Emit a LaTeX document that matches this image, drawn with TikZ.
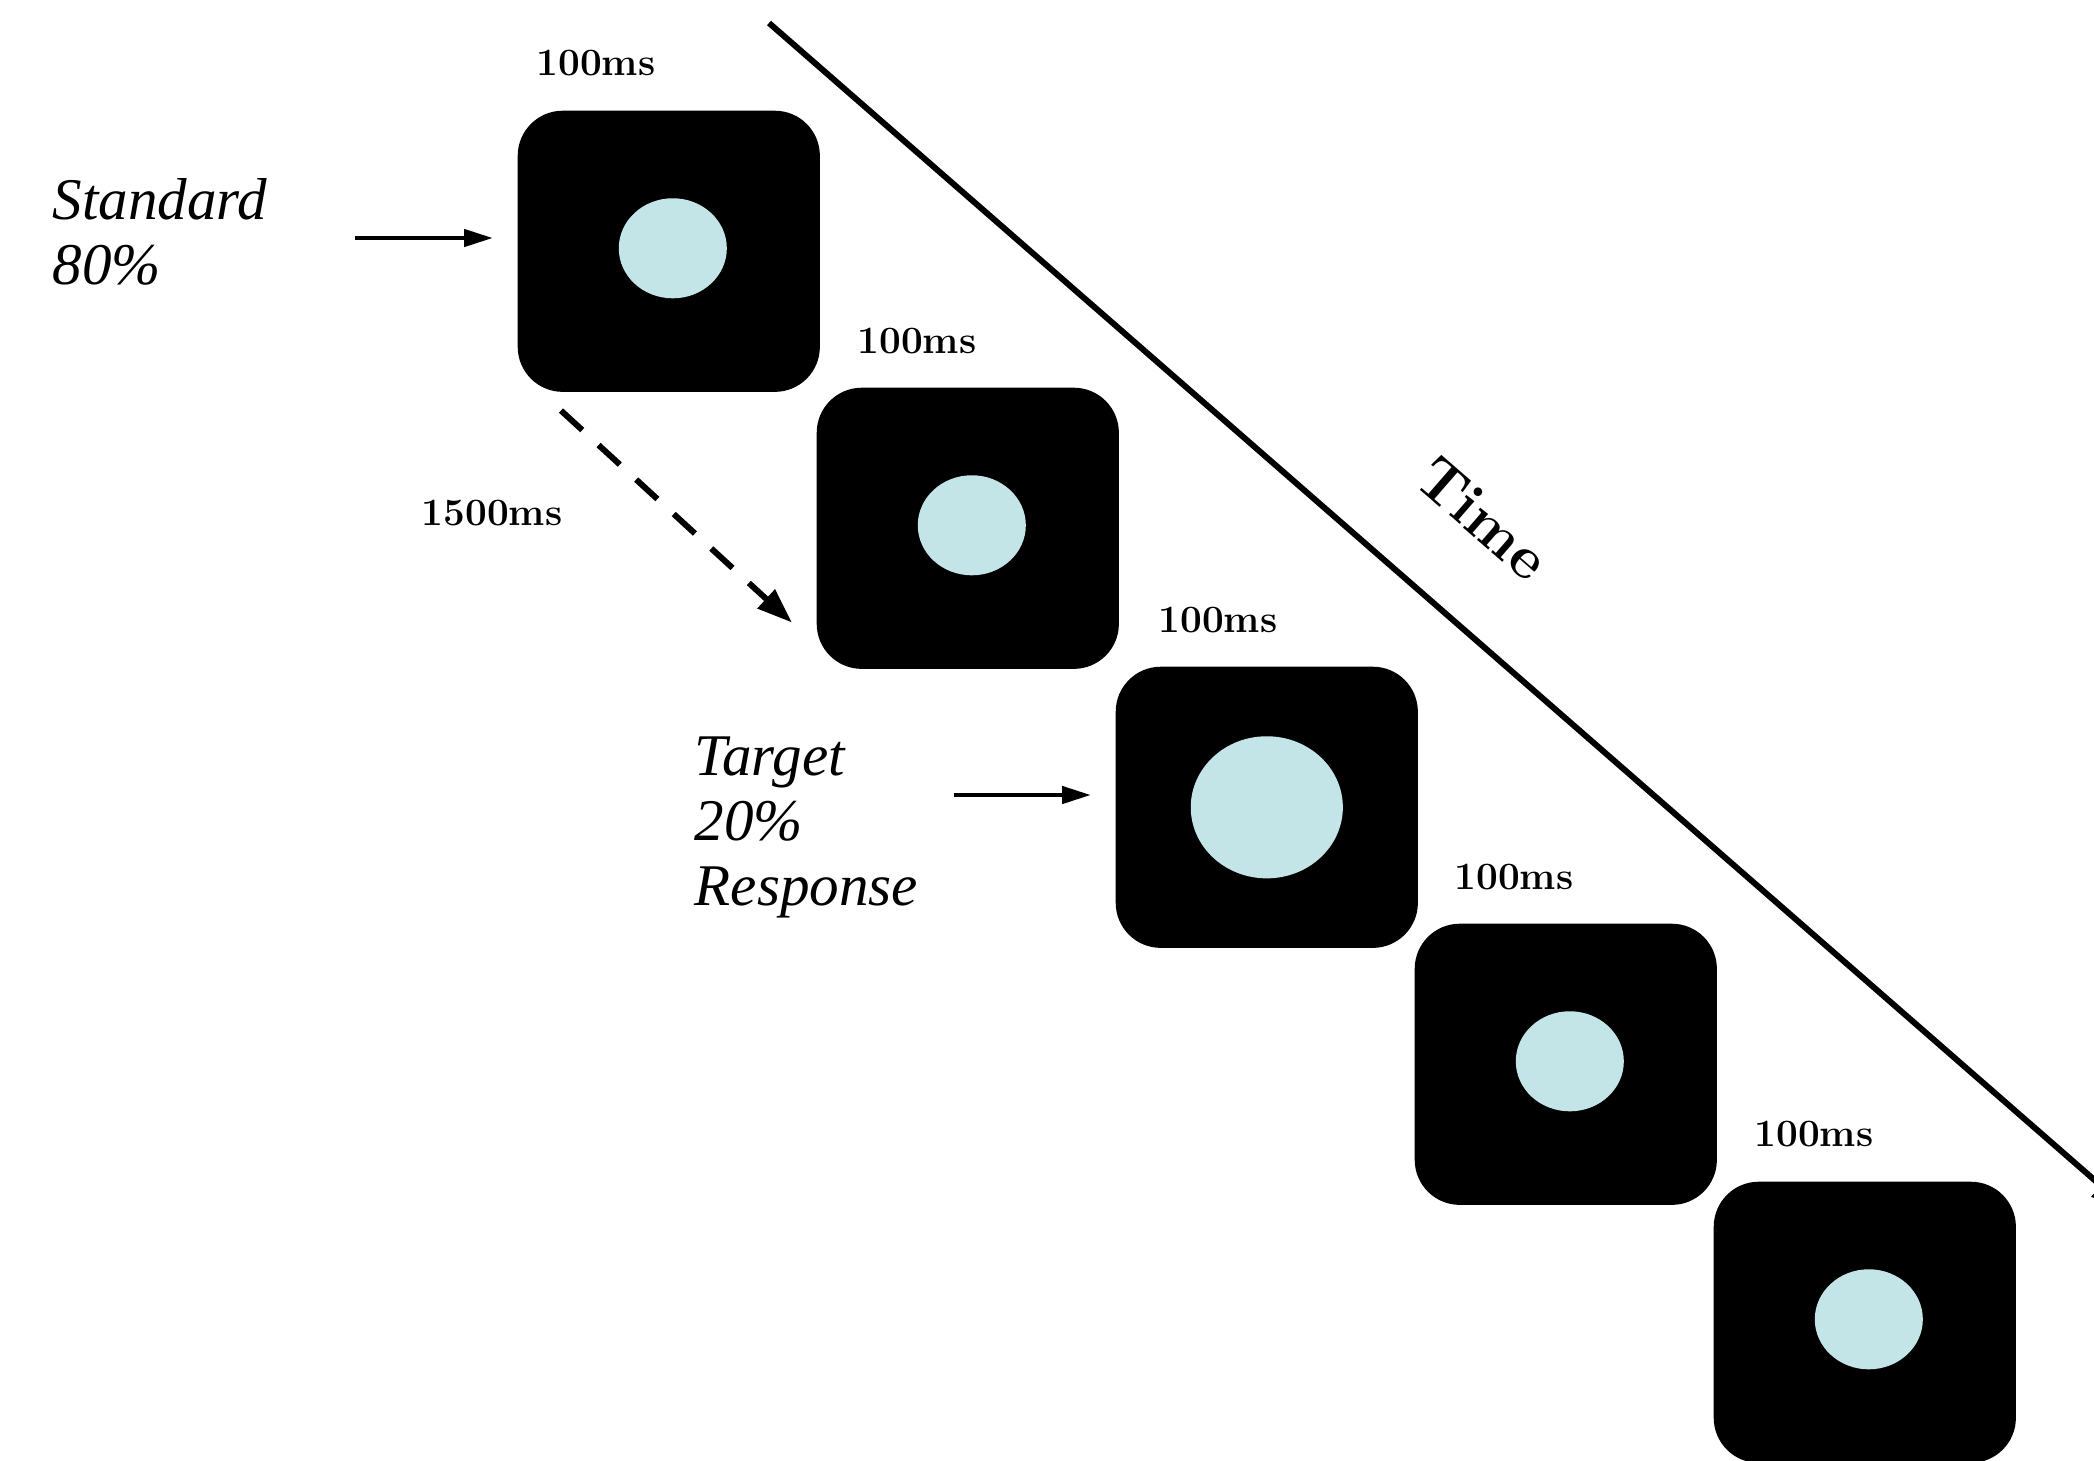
\documentclass[tikz,border=0pt]{standalone}
\usepackage{fontspec}
\usetikzlibrary{arrows.meta,shapes.geometric}
\newfontfamily\cuefont{Liberation Serif}
\definecolor{dotblue}{RGB}{196,229,231}
\begin{document}
\begin{tikzpicture}[x=0.01cm,y=-0.01cm,
  screen/.style={rectangle, fill=black, rounded corners=0.45cm,
    minimum width=3.02cm, minimum height=2.81cm, inner sep=0, anchor=north west},
  dot/.style={ellipse, fill=dotblue, inner sep=0,
    minimum width=1.08cm, minimum height=1.0cm},
  bigdot/.style={dot, minimum width=1.52cm, minimum height=1.42cm},
  dur/.style={font=\bfseries\fontsize{11}{13}\selectfont, inner sep=0},
  cue/.style={font=\cuefont\itshape\fontsize{16.8}{18.5}\selectfont, align=left,
    inner sep=0, anchor=north west},
  arr/.style={line width=1.3pt, -{Triangle[length=8.2pt,width=4.8pt]}},
  dasharr/.style={line width=1.7pt, dash pattern=on 8.2pt off 6.3pt,
    -{Triangle[length=10pt,width=7pt]}},
  timeline/.style={line width=1.7pt, -{Triangle[length=11pt,width=8pt]}}]

\clip (0,0) rectangle (2094,1460);

% stimulus screens
\node[screen] (b1) at (517,110) {};
\node[screen] (b2) at (816,387) {};
\node[screen] (b3) at (1115,666) {};
\node[screen] (b4) at (1414,923) {};
\node[screen] (b5) at (1713,1181) {};

% stimuli
\node[dot] (d1) at ([shift={(4,-3)}]b1.center) {};
\node[dot] (d2) at ([shift={(4,-3)}]b2.center) {};
\node[bigdot] (d3) at ([shift={(0,0)}]b3.center) {};
\node[dot] (d4) at ([shift={(4,-3)}]b4.center) {};
\node[dot] (d5) at ([shift={(4,-3)}]b5.center) {};

% durations
\node[dur] (l1) at ([shift={(79,-47)}]b1.north west) {100ms};
\node[dur] (l2) at ([shift={(101,-46)}]b2.north west) {100ms};
\node[dur] (l3) at ([shift={(103,-46)}]b3.north west) {100ms};
\node[dur] (l4) at ([shift={(100,-46)}]b4.north west) {100ms};
\node[dur] (l5) at ([shift={(101,-47)}]b5.north west) {100ms};
\node[dur] (isi) at (492,513) {1500ms};

% condition labels
\node[cue] (std) at (52,178) {Standard\\80\%};
\node[cue] (tgt) at (694,736) {Target\\20\%\\Response};

\coordinate (s1) at (355,238);
\draw[arr, shorten >=0.24cm] (s1) -- (b1.west |- s1);
\coordinate (s2) at (954,795);
\draw[arr, shorten >=0.24cm] (s2) -- (b3.west |- s2);

% inter-stimulus interval
\coordinate (g1) at ([shift={(44,18)}]b1.south west);
\coordinate (g2) at ([shift={(-24,-47)}]b2.south west);
\draw[dasharr] (g1) -- (g2);

% time axis
\coordinate (t0) at (769,23);
\coordinate (t1) at (2130,1211);
\draw[timeline] (t0) -- (t1);
\node[font=\bfseries\fontsize{17}{20}\selectfont, rotate=-41, inner sep=0]
  (time) at (1483,518) {Time};
\end{tikzpicture}
\end{document}
